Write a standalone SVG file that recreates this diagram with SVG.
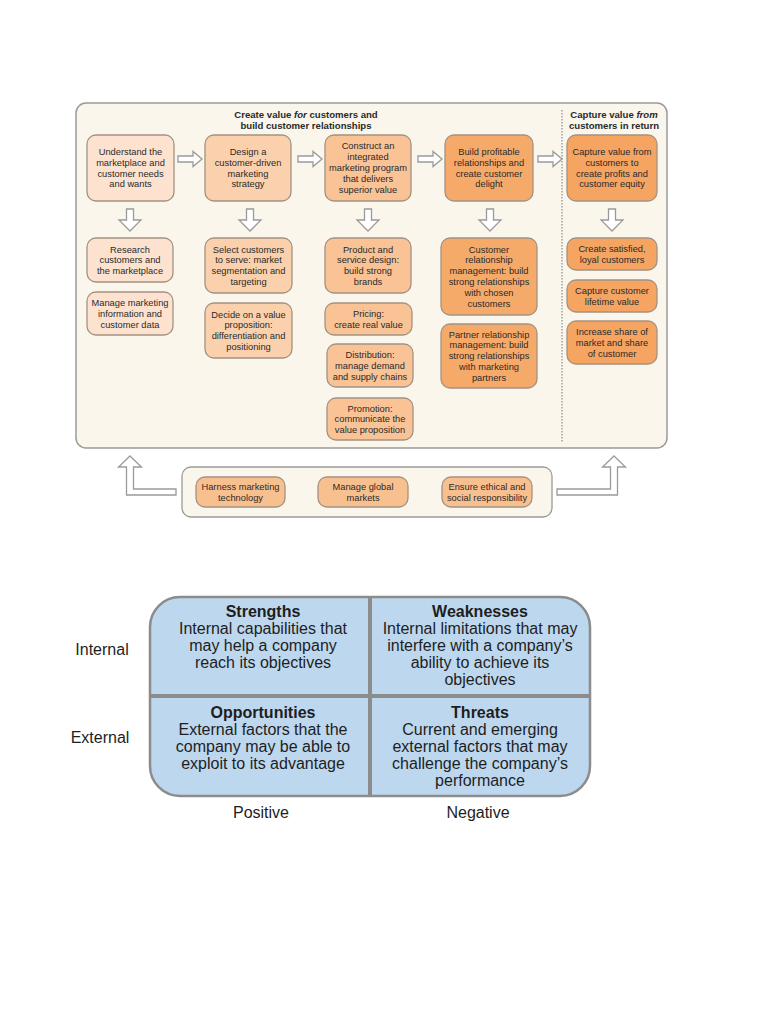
<svg xmlns="http://www.w3.org/2000/svg" width="784" height="1015" viewBox="0 0 784 1015">
<style>
  .t{font-family:"Liberation Sans",Arial,sans-serif;font-size:9.3px;fill:#2a2a2a;text-anchor:middle}
  .h{font-family:"Liberation Sans",Arial,sans-serif;font-size:9.6px;font-weight:bold;fill:#2a2a2a;text-anchor:middle}
  .box{stroke:#a39282;stroke-width:1.3}
  .c1{fill:#fde3cf}.c2{fill:#fbd1ad}.c3{fill:#f9c396}.c4{fill:#f6aa6a}.c5{fill:#f5a462}.cb{fill:#f9c08f}
  .arr{fill:#ffffff;stroke:#9a9a9a;stroke-width:1.3;stroke-linejoin:miter}
  .s{font-family:"Liberation Sans",Arial,sans-serif;font-size:16px;fill:#1e1e1e;text-anchor:middle}
  .sb{font-family:"Liberation Sans",Arial,sans-serif;font-size:16px;font-weight:bold;fill:#1e1e1e;text-anchor:middle}
</style>
<rect width="784" height="1015" fill="#ffffff"/>

<g id="frame">
  <rect x="76" y="103" width="591" height="345" rx="10" fill="#faf6ec" stroke="#9a9a9a" stroke-width="1.5"/>
  <line x1="562" y1="110" x2="562" y2="443" stroke="#777" stroke-width="1" stroke-dasharray="1.5,1.5"/>
  <text class="h" x="306" y="118">Create value <tspan font-style="italic">for</tspan> customers and</text>
  <text class="h" x="306" y="129">build customer relationships</text>
  <text class="h" x="614" y="118">Capture value <tspan font-style="italic">from</tspan></text>
  <text class="h" x="614" y="129">customers in return</text>
</g>

<g id="n1"><rect class="box c1" x="87" y="135" width="87" height="66" rx="9"/>
<text class="t" x="130.5" y="155">Understand the</text><text class="t" x="130.5" y="165.8">marketplace and</text><text class="t" x="130.5" y="176.6">customer needs</text><text class="t" x="130.5" y="187.4">and wants</text></g>

<g id="n2"><rect class="box c2" x="205" y="135" width="86" height="66" rx="9"/>
<text class="t" x="248" y="155">Design a</text><text class="t" x="248" y="165.8">customer-driven</text><text class="t" x="248" y="176.6">marketing</text><text class="t" x="248" y="187.4">strategy</text></g>

<g id="n3"><rect class="box c3" x="325" y="135" width="86" height="66" rx="9"/>
<text class="t" x="368" y="149.3">Construct an</text><text class="t" x="368" y="160.1">integrated</text><text class="t" x="368" y="170.9">marketing program</text><text class="t" x="368" y="181.7">that delivers</text><text class="t" x="368" y="192.5">superior value</text></g>

<g id="n4"><rect class="box c4" x="445" y="135" width="88" height="66" rx="9"/>
<text class="t" x="489" y="155">Build profitable</text><text class="t" x="489" y="165.8">relationships and</text><text class="t" x="489" y="176.6">create customer</text><text class="t" x="489" y="187.4">delight</text></g>

<g id="n5"><rect class="box c5" x="567" y="135" width="90" height="66" rx="9"/>
<text class="t" x="612" y="155">Capture value from</text><text class="t" x="612" y="165.8">customers to</text><text class="t" x="612" y="176.6">create profits and</text><text class="t" x="612" y="187.4">customer equity</text></g>

<g id="r1"><rect class="box c1" x="87" y="238" width="86" height="44" rx="9"/>
<text class="t" x="130" y="252.5">Research</text><text class="t" x="130" y="263.3">customers and</text><text class="t" x="130" y="274.1">the marketplace</text></g>

<g id="r2"><rect class="box c1" x="87" y="292" width="86" height="43" rx="9"/>
<text class="t" x="130" y="306">Manage marketing</text><text class="t" x="130" y="316.8">information and</text><text class="t" x="130" y="327.6">customer data</text></g>

<g id="s1"><rect class="box c2" x="205" y="238" width="87" height="55" rx="9"/>
<text class="t" x="248.5" y="252.5">Select customers</text><text class="t" x="248.5" y="263.3">to serve: market</text><text class="t" x="248.5" y="274.1">segmentation and</text><text class="t" x="248.5" y="284.9">targeting</text></g>

<g id="s2"><rect class="box c2" x="205" y="303" width="87" height="55" rx="9"/>
<text class="t" x="248.5" y="317.5">Decide on a value</text><text class="t" x="248.5" y="328.3">proposition:</text><text class="t" x="248.5" y="339.1">differentiation and</text><text class="t" x="248.5" y="349.9">positioning</text></g>

<g id="p1"><rect class="box c3" x="325" y="238" width="86" height="55" rx="9"/>
<text class="t" x="368" y="252.5">Product and</text><text class="t" x="368" y="263.3">service design:</text><text class="t" x="368" y="274.1">build strong</text><text class="t" x="368" y="284.9">brands</text></g>

<g id="p2"><rect class="box c3" x="325" y="303" width="87" height="32" rx="9"/>
<text class="t" x="368.5" y="317">Pricing:</text><text class="t" x="368.5" y="327.8">create real value</text></g>

<g id="p3"><rect class="box c3" x="327" y="344" width="86" height="43" rx="9"/>
<text class="t" x="370" y="358">Distribution:</text><text class="t" x="370" y="368.8">manage demand</text><text class="t" x="370" y="379.6">and supply chains</text></g>

<g id="p4"><rect class="box c3" x="327" y="398" width="86" height="42" rx="9"/>
<text class="t" x="370" y="411.5">Promotion:</text><text class="t" x="370" y="422.3">communicate the</text><text class="t" x="370" y="433.1">value proposition</text></g>

<g id="c1"><rect class="box c4" x="441" y="238" width="96" height="77" rx="9"/>
<text class="t" x="489" y="252.5">Customer</text><text class="t" x="489" y="263.3">relationship</text><text class="t" x="489" y="274.1">management: build</text><text class="t" x="489" y="284.9">strong relationships</text><text class="t" x="489" y="295.7">with chosen</text><text class="t" x="489" y="306.5">customers</text></g>

<g id="c2"><rect class="box c4" x="441" y="324" width="96" height="64" rx="9"/>
<text class="t" x="489" y="337.5">Partner relationship</text><text class="t" x="489" y="348.3">management: build</text><text class="t" x="489" y="359.1">strong relationships</text><text class="t" x="489" y="369.9">with marketing</text><text class="t" x="489" y="380.7">partners</text></g>

<g id="v1"><rect class="box c5" x="567" y="238" width="90" height="32" rx="9"/>
<text class="t" x="612" y="252">Create satisfied,</text><text class="t" x="612" y="262.8">loyal customers</text></g>

<g id="v2"><rect class="box c5" x="567" y="280" width="90" height="32" rx="9"/>
<text class="t" x="612" y="294">Capture customer</text><text class="t" x="612" y="304.8">lifetime value</text></g>

<g id="v3"><rect class="box c5" x="567" y="321" width="90" height="43" rx="9"/>
<text class="t" x="612" y="335">Increase share of</text><text class="t" x="612" y="345.8">market and share</text><text class="t" x="612" y="356.6">of customer</text></g>

<g id="bottom">
  <rect x="182" y="467" width="370" height="50" rx="9" fill="#faf6ec" stroke="#9a9a9a" stroke-width="1.3"/>
</g>
<g id="b1"><rect class="box cb" x="196" y="477" width="89" height="30" rx="9"/>
<text class="t" x="240.5" y="490">Harness marketing</text><text class="t" x="240.5" y="500.8">technology</text></g>
<g id="b2"><rect class="box cb" x="318" y="477" width="90" height="30" rx="9"/>
<text class="t" x="363" y="490">Manage global</text><text class="t" x="363" y="500.8">markets</text></g>
<g id="b3"><rect class="box cb" x="442" y="477" width="90" height="30" rx="9"/>
<text class="t" x="487" y="490">Ensure ethical and</text><text class="t" x="487" y="500.8">social responsibility</text></g>

<g id="connectors">
  <path class="arr" d="M178,156 h15 v-4.5 L202,159 L193,166.5 v-4.5 h-15 z"/>
  <path class="arr" d="M298,156 h15 v-4.5 L322,159 L313,166.5 v-4.5 h-15 z"/>
  <path class="arr" d="M418,156 h15 v-4.5 L442,159 L433,166.5 v-4.5 h-15 z"/>
  <path class="arr" d="M538,156 h15 v-4.5 L562,159 L553,166.5 v-4.5 h-15 z"/>
  <path class="arr" d="M126.5,209 h7 v11 h7.5 L130,231 L119,220 h7.5 z"/>
  <path class="arr" d="M246.5,209 h7 v11 h7.5 L250,231 L239,220 h7.5 z"/>
  <path class="arr" d="M364.5,209 h7 v11 h7.5 L368,231 L357,220 h7.5 z"/>
  <path class="arr" d="M486.5,209 h7 v11 h7.5 L490,231 L479,220 h7.5 z"/>
  <path class="arr" d="M608.5,209 h7 v11 h7.5 L612,231 L601,220 h7.5 z"/>
  <path class="arr" d="M130,456 L141.5,467 H133.5 V489 H176 V495 H126.5 V467 H118.5 Z"/>
  <path class="arr" d="M614,456 L625.5,467 H617.5 V495 H557 V489 H610.5 V467 H602.5 Z"/>
</g>

<g id="swot">
  <rect x="150" y="597" width="440" height="199" rx="30" fill="#bdd7ee" stroke="#8c8c8c" stroke-width="2.5"/>
  <line x1="370" y1="597" x2="370" y2="796" stroke="#8c8c8c" stroke-width="4"/>
  <line x1="150" y1="696" x2="590" y2="696" stroke="#8c8c8c" stroke-width="4"/>
</g>
<g id="strengths">
  <text class="sb" x="263" y="617">Strengths</text>
  <text class="s" x="263" y="634">Internal capabilities that</text>
  <text class="s" x="263" y="651">may help a company</text>
  <text class="s" x="263" y="668">reach its objectives</text>
</g>
<g id="weaknesses">
  <text class="sb" x="480" y="617">Weaknesses</text>
  <text class="s" x="480" y="634">Internal limitations that may</text>
  <text class="s" x="480" y="651">interfere with a company’s</text>
  <text class="s" x="480" y="668">ability to achieve its</text>
  <text class="s" x="480" y="685">objectives</text>
</g>
<g id="opportunities">
  <text class="sb" x="263" y="718">Opportunities</text>
  <text class="s" x="263" y="735">External factors that the</text>
  <text class="s" x="263" y="752">company may be able to</text>
  <text class="s" x="263" y="769">exploit to its advantage</text>
</g>
<g id="threats">
  <text class="sb" x="480" y="718">Threats</text>
  <text class="s" x="480" y="735">Current and emerging</text>
  <text class="s" x="480" y="752">external factors that may</text>
  <text class="s" x="480" y="769">challenge the company’s</text>
  <text class="s" x="480" y="786">performance</text>
</g>
<g id="labels">
  <text class="s" x="102" y="655">Internal</text>
  <text class="s" x="100" y="743">External</text>
  <text class="s" x="261" y="818">Positive</text>
  <text class="s" x="478" y="818">Negative</text>
</g>
</svg>
